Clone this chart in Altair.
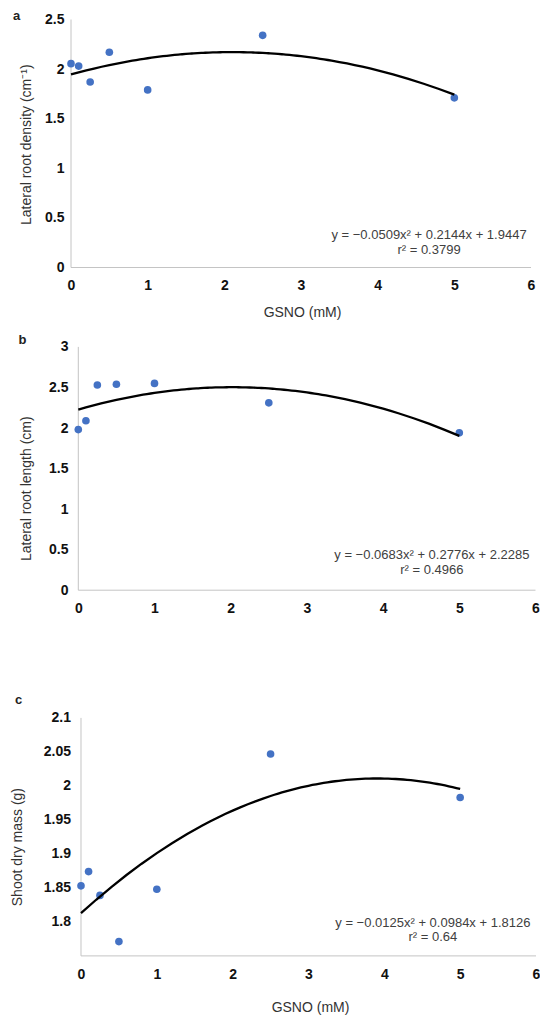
import altair as alt
import pandas as pd

FONT = "Liberation Sans"

# ---- data ----
gsno = [0, 0.1, 0.25, 0.5, 1, 2.5, 5]
density = [2.055, 2.03, 1.87, 2.17, 1.79, 2.34, 1.71]
length = [1.98, 2.09, 2.53, 2.54, 2.55, 2.31, 1.94]
mass = [1.853, 1.874, 1.839, 1.771, 1.848, 2.047, 1.983]

x_ticks = [0, 1, 2, 3, 4, 5, 6]
a_ticks = [0, 0.5, 1, 1.5, 2, 2.5]
b_ticks = [0, 0.5, 1, 1.5, 2, 2.5, 3]
c_ticks = [1.8, 1.85, 1.9, 1.95, 2, 2.05, 2.1]

eq_a = ["y = \u22120.0509x\u00b2 + 0.2144x + 1.9447", "r\u00b2 = 0.3799"]
eq_b = ["y = \u22120.0683x\u00b2 + 0.2776x + 2.2285", "r\u00b2 = 0.4966"]
eq_c = ["y = \u22120.0125x\u00b2 + 0.0984x + 1.8126", "r\u00b2 = 0.64"]
eq_a_x = [4.67, 4.67]
eq_a_y = [0.323, 0.174]
eq_b_x = [4.64, 4.64]
eq_b_y = [0.43, 0.255]
eq_c_x = [4.64, 4.64]
eq_c_y = [1.799, 1.778]


def panel(values, xdom, ydom, axis_top, width, height, yticks, ytitle, ytx, yty,
          ylabpad, xtitle, xtx, xty, xlabpad, letter, lx, ly, eq, eqx, eqy):
    pts = pd.DataFrame({"GSNO": gsno, "value": values})
    X = alt.X("GSNO:Q", scale=alt.Scale(domain=xdom, nice=False, zero=False),
              axis=alt.Axis(values=x_ticks, title=xtitle if xtitle else "",
                            titleX=xtx, titleY=xty, titleBaseline="middle",
                            labelPadding=xlabpad, labelFlush=False,
                            labelOverlap=False, format="d"))
    Y = alt.Y("value:Q", scale=alt.Scale(domain=ydom, nice=False, zero=False),
              axis=alt.Axis(values=yticks, title=ytitle, titleX=ytx, titleY=yty,
                            titleBaseline="middle", labelPadding=ylabpad,
                            labelOverlap=False, labelFlush=False, format=".2~f"))
    yaxis = alt.Chart(pd.DataFrame({"GSNO": [0], "value": [ydom[0]], "v2": [axis_top]})).mark_rule(
        color="#c4c4c4", strokeWidth=1).encode(x=X, y=Y, y2=alt.Y2("v2:Q"))
    xaxis = alt.Chart(pd.DataFrame({"GSNO": [0], "g2": [6], "value": [ydom[0]]})).mark_rule(
        color="#c4c4c4", strokeWidth=1).encode(x=X, x2=alt.X2("g2:Q"), y=Y)
    dots = alt.Chart(pts).mark_circle(size=58, color="#4472C4", opacity=1).encode(x=X, y=Y)
    fit = alt.Chart(pts).transform_regression(
        "GSNO", "value", method="poly", order=2, extent=[0, 5]
    ).mark_line(color="black", strokeWidth=2.3).encode(x=X, y=Y)
    txt = alt.Chart(pd.DataFrame({"GSNO": eqx, "value": eqy, "t": eq})).mark_text(
        font=FONT, fontSize=13, color="#404040", align="center", baseline="middle"
    ).encode(x=X, y=Y, text="t:N")
    lab = alt.Chart(pd.DataFrame({"t": [letter]})).mark_text(
        font=FONT, fontSize=13, fontWeight="bold", color="#222222",
        align="left", baseline="alphabetic"
    ).encode(x=alt.value(lx), y=alt.value(ly), text="t:N")
    return alt.layer(yaxis, xaxis, dots, fit, txt, lab).properties(
        width=width, height=height)


pa = panel(density, [0, 6], [0, 2.5], 2.5, 460, 248, a_ticks,
           "Lateral root density (cm\u207b\u00b9)", -45, 124.7, 7,
           "GSNO (mM)", 231, 44.7, 11, "a", -58, 0.7, eq_a, eq_a_x, eq_a_y)
pb = panel(length, [-0.0958, 6], [0, 3], 3, 464.5, 243.3, b_ticks,
           "Lateral root length (cm)", -44.7, 141.3, 3,
           None, 0, 0, 11, "b", -52.4, -3.4, eq_b, eq_b_x, eq_b_y)
pc = panel(mass, [-0.1318, 6], [1.75, 2.17], 2.1, 465, 285.6, c_ticks,
           "Shoot dry mass (g)", -53.2, 176.3, 0.5,
           "GSNO (mM)", 239, 51.7, 12, "c", -56, 33.9, eq_c, eq_c_x, eq_c_y)

chart = alt.vconcat(pa, pb, pc, spacing=79.4, bounds="flush").properties(
    padding={"left": 2, "top": 1.5, "right": 0, "bottom": 0}
).configure_view(stroke=None).configure_axis(
    grid=False, domain=False, ticks=False, tickSize=0,
    labelFont=FONT, labelFontSize=14, labelFontWeight="bold", labelColor="#111111",
    titleFont=FONT, titleFontSize=14, titleFontWeight="normal", titleColor="#333333"
)

chart.save("out.html", embed_options={"renderer": "svg", "actions": False})
